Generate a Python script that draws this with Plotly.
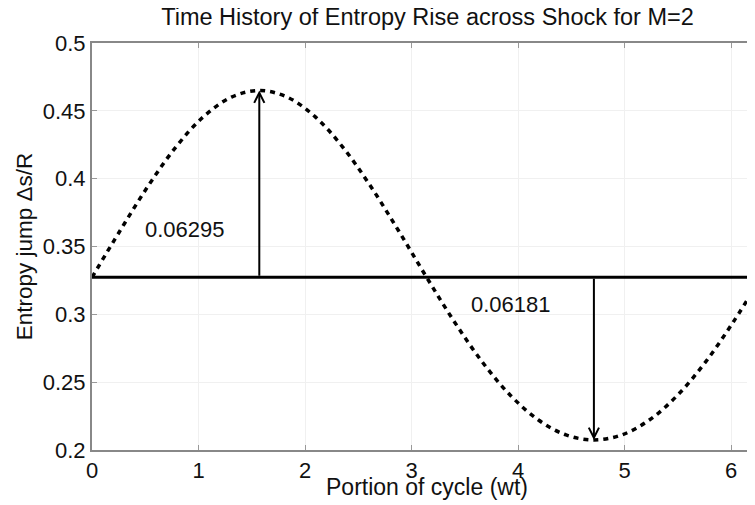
import plotly.graph_objects as go

# Data
wt = [0.0, 0.2618, 0.5236, 0.7854, 1.0472, 1.3090, 1.5708, 1.8326, 2.0944,
      2.3562, 2.6180, 2.8798, 3.1416, 3.4034, 3.6652, 3.9270, 4.1888, 4.4506,
      4.7124, 4.9742, 5.2360, 5.4978, 5.7596, 6.0214, 6.2832]
entropy = [0.3273, 0.3614, 0.3942, 0.4231, 0.4457, 0.4601, 0.4650, 0.4601, 0.4457,
           0.4231, 0.3942, 0.3614, 0.3273, 0.2944, 0.2648, 0.2404, 0.2223, 0.2111,
           0.2074, 0.2111, 0.2223, 0.2404, 0.2648, 0.2944, 0.3273]
mean_level = 0.3273
peak_x, peak_y = 1.5708, 0.4650
trough_x, trough_y = 4.7124, 0.2074
labels = ["0.06295", "0.06181"]
label_pos = [(0.877, 0.3629), (3.934, 0.3069)]
x_ticks = [0, 1, 2, 3, 4, 5, 6]
y_ticks = [0.2, 0.25, 0.3, 0.35, 0.4, 0.45, 0.5]
y_ticktext = ["0.2", "0.25", "0.3", "0.35", "0.4", "0.45", "0.5"]

FONT = "Liberation Sans, Arial, Helvetica, sans-serif"
W, H = 747, 497  # page body adds an 8px offset
L, T, B = 84, 35, 55
PH = H - T - B

fig = go.Figure()
fig.add_trace(go.Scatter(
    x=wt, y=entropy, mode="lines",
    line=dict(color="black", width=3.5, dash="5px,5px", shape="spline"),
    hoverinfo="skip", showlegend=False))
fig.add_trace(go.Scatter(
    x=[0, 6.2832], y=[mean_level, mean_level], mode="lines",
    line=dict(color="black", width=3), hoverinfo="skip", showlegend=False))

ann = []
ann.append(dict(x=peak_x, y=peak_y, ax=peak_x, ay=mean_level, xref="x", yref="y",
                axref="x", ayref="y", showarrow=True, arrowhead=5, arrowsize=1,
                arrowwidth=2, arrowcolor="black", text="", standoff=0))
ann.append(dict(x=trough_x, y=trough_y, ax=trough_x, ay=mean_level, xref="x", yref="y",
                axref="x", ayref="y", showarrow=True, arrowhead=5, arrowsize=1,
                arrowwidth=2, arrowcolor="black", text="", standoff=0))
for t, (px, py) in zip(labels, label_pos):
    ann.append(dict(x=px, y=py, xref="x", yref="y", text=t, showarrow=False,
                    font=dict(family=FONT, size=22, color="#111")))
# x-axis label
ann.append(dict(x=3.1416, y=-(479 - (H - B)) / PH, xref="x", yref="paper",
                text="Portion of cycle (wt)", showarrow=False,
                xanchor="center", yanchor="middle",
                font=dict(family=FONT, size=23, color="#111")))

fig.update_layout(
    width=W, height=H,
    margin=dict(l=L, r=0, t=T, b=B, autoexpand=False),
    paper_bgcolor="white", plot_bgcolor="white",
    annotations=ann,
    font=dict(family=FONT, size=22, color="#111"),
    title=dict(text="Time History of Entropy Rise across Shock for M=2",
               x=419.5 / W, xanchor="center",
               y=1 - 9 / H, yanchor="middle", yref="container",
               font=dict(family=FONT, size=23.5, color="#111")),
)
fig.update_xaxes(
    range=[0, 6.225], tickvals=x_ticks, ticktext=[str(v) for v in x_ticks],
    showgrid=True, gridcolor="#f0f0f0", gridwidth=1,
    showline=True, linecolor="#888", linewidth=2, mirror="ticks",
    ticks="inside", ticklen=5, tickcolor="#999", tickwidth=1,
    zeroline=False, automargin=False,
    tickfont=dict(family=FONT, size=22, color="#111"))
fig.update_yaxes(
    range=[0.2, 0.5], tickvals=y_ticks, ticktext=y_ticktext,
    showgrid=True, gridcolor="#f0f0f0", gridwidth=1,
    showline=True, linecolor="#888", linewidth=2,
    ticks="inside", ticklen=5, tickcolor="#999", tickwidth=1,
    zeroline=False, automargin=False,
    tickfont=dict(family=FONT, size=22, color="#111"),
    title=dict(text="Entropy jump Δs/R", standoff=4,
               font=dict(family=FONT, size=22.5, color="#111")))

fig.write_html("out.html")
